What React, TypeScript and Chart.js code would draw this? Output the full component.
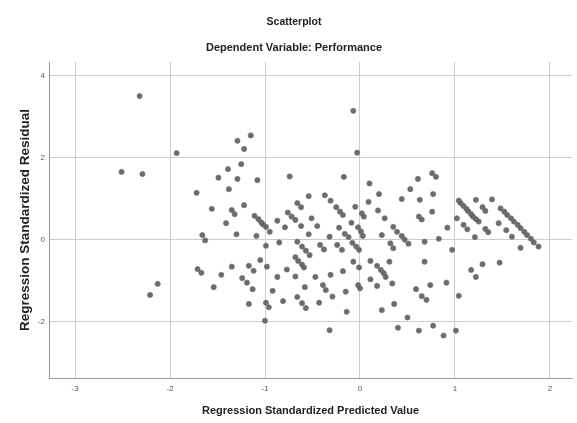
import React, { useEffect, useRef } from 'react';
import { Chart, registerables } from 'chart.js';

Chart.register(...registerables);

const chartTitle = 'Scatterplot';
const chartSubtitle = 'Dependent Variable: Performance';
const xAxisTitle = 'Regression Standardized Predicted Value';
const yAxisTitle = 'Regression Standardized Residual';

const xTickValues = [-3, -2, -1, 0, 1, 2];
const yTickValues = [-2, 0, 2, 4];

// Regression standardized predicted values (x) of each case
const predictedValues = [
  -2.51, -2.32, -2.29, -1.93, -2.21, -2.13, -1.72, -1.71, -1.67, -1.66,
  -1.63, -1.56, -1.54, -1.46, -1.41, -1.38, -1.39, -1.49, -1.35, -1.32,
  -1.35, -1.30, -1.29, -1.22, -1.15, -1.25, -1.29, -1.22, -1.08, -1.24,
  -1.19, -1.13, -1.17, -1.12, -1.17, -1.11, -1.07, -1.04, -1.02, -0.99,
  -0.95, -1.09, -1.05, -0.99, -0.98, -1.00, -0.99, -0.96, -0.92, -0.87,
  -0.85, -0.87, -0.81, -0.79, -0.77, -0.74, -0.76, -0.72, -0.68, -0.66,
  -0.62, -0.62, -0.66, -0.61, -0.57, -0.53, -0.68, -0.65, -0.61, -0.59,
  -0.68, -0.66, -0.61, -0.57, -0.58, -0.54, -0.51, -0.54, -0.45, -0.47,
  -0.43, -0.42, -0.38, -0.37, -0.31, -0.25, -0.21, -0.18, -0.32, -0.31,
  -0.39, -0.36, -0.29, -0.32, -0.22, -0.24, -0.19, -0.18, -0.17, -0.16,
  -0.12, -0.09, -0.15, -0.14, -0.05, -0.07, -0.03, -0.08, -0.04, -0.01,
  -0.02, 0.01, 0.03, 0.02, 0.04, -0.07, -0.01, -0.02, 0.00, 0.10,
  0.20, 0.09, 0.19, 0.26, 0.23, 0.35, 0.39, 0.44, 0.47, 0.51,
  0.32, 0.35, 0.11, 0.31, 0.18, 0.22, 0.25, 0.27, 0.11, 0.18,
  0.34, 0.23, 0.36, 0.50, 0.40, 0.44, 0.53, 0.61, 0.76, 0.80,
  0.63, 0.77, 0.62, 0.65, 0.76, 0.68, 0.83, 0.92, 0.97, 0.68,
  0.59, 0.65, 0.70, 0.74, 0.62, 0.77, 0.88, 1.01, 0.91, 1.04,
  1.04, 1.06, 1.09, 1.12, 1.14, 1.17, 1.19, 1.22, 1.25, 1.02,
  1.09, 1.13, 1.21, 1.22, 1.29, 1.32, 1.32, 1.35, 1.39, 1.48,
  1.52, 1.55, 1.59, 1.62, 1.66, 1.69, 1.73, 1.76, 1.80, 1.83,
  1.88, 1.46, 1.54, 1.60, 1.69, 1.47, 1.29, 1.17, 1.22,
];

// Regression standardized residuals (y) of each case
const residualValues = [
  1.66, 3.51, 1.61, 2.12, -1.34, -1.07, 1.15, -0.71, -0.80, 0.12,
  -0.01, 0.76, -1.15, -0.85, 0.41, 1.24, 1.73, 1.52, 0.73, 0.63,
  -0.65, 0.14, 2.42, 2.22, 2.55, 1.85, 1.49, 0.85, 1.46, -0.93,
  -1.04, -1.20, -0.63, -0.75, -1.56, 0.59, 0.51, 0.43, 0.38, 0.32,
  0.20, 0.10, -0.49, -0.14, -0.65, -1.97, -1.53, -1.64, -1.24, 0.47,
  -0.06, -0.90, -1.49, 0.31, -0.72, 1.55, 0.67, 0.57, 0.49, 0.90,
  0.80, 0.34, -0.04, -0.16, -0.26, -0.37, -0.42, -0.51, -0.60, -0.67,
  -0.89, -1.39, -1.54, -1.66, -1.15, 1.07, 0.53, 0.14, 0.34, -0.90,
  -1.53, -0.12, -0.23, 1.09, 0.96, 0.80, 0.69, 0.61, 0.08, -0.85,
  -1.10, -1.22, -1.38, -2.20, 0.30, -0.12, -0.24, -0.76, 1.54, 0.15,
  0.07, 0.42, -1.26, -1.75, 0.81, 3.15, 2.13, -0.07, -0.16, -0.24,
  0.31, 0.21, 0.10, 0.65, 0.57, -0.53, -0.67, -1.10, -1.18, 1.38,
  1.12, 0.93, 0.72, 0.53, 0.12, 0.32, 0.20, 0.10, 0.01, -0.09,
  -0.08, -0.20, -0.51, -0.53, -0.63, -0.73, -0.81, -0.90, -0.96, -1.12,
  -1.06, -1.71, -1.56, -1.89, -2.14, 1.00, 1.24, 1.49, 1.63, 1.54,
  0.98, 1.12, 0.57, 0.50, 0.69, -0.04, 0.03, 0.30, -0.24, -0.53,
  -1.20, -1.37, -1.46, -1.10, -2.21, -2.09, -2.33, -2.21, -1.04, -1.36,
  0.96, 0.90, 0.83, 0.76, 0.70, 0.63, 0.57, 0.51, 0.45, 0.53,
  0.37, 0.26, 0.07, 0.98, 0.80, 0.71, 0.27, 0.19, 0.99, 0.77,
  0.69, 0.61, 0.53, 0.45, 0.37, 0.29, 0.20, 0.12, 0.03, -0.06,
  -0.16, 0.41, 0.24, 0.08, -0.19, -0.55, -0.59, -0.73, -0.90,
];

const FONT = '"Liberation Sans", Arial, sans-serif';

export default function App() {
  const canvasRef = useRef<HTMLCanvasElement | null>(null);

  useEffect(() => {
    const canvas = canvasRef.current;
    if (!canvas) return;
    const points = predictedValues.map((x, i) => ({ x, y: residualValues[i] }));
    const chart = new Chart(canvas, {
      type: 'scatter',
      data: {
        datasets: [
          {
            data: points,
            pointRadius: 2.6,
            pointHoverRadius: 2.6,
            backgroundColor: 'rgba(92,92,92,0.9)',
            borderColor: 'rgba(115,115,115,0.7)',
            borderWidth: 1,
          },
        ],
      },
      options: {
        responsive: false,
        animation: false,
        devicePixelRatio: 1,
        layout: { padding: { left: 16, right: 5, top: 0, bottom: 0 } },
        plugins: {
          legend: { display: false },
          tooltip: { enabled: false },
          title: {
            display: true,
            text: chartTitle,
            color: '#222',
            font: { family: FONT, size: 10.5, weight: 'bold' },
            padding: { top: 15.7, bottom: 0 },
          },
          subtitle: {
            display: true,
            text: chartSubtitle,
            color: '#222',
            font: { family: FONT, size: 11, weight: 'bold' },
            padding: { top: 13.1, bottom: 7.4 },
          },
        },
        scales: {
          x: {
            type: 'linear',
            min: -3.274,
            max: 2.232,
            afterBuildTicks: (axis: any) => {
              axis.ticks = xTickValues.map((v) => ({ value: v }));
            },
            afterFit: (scale: any) => {
              scale.height = 45;
            },
            grid: { color: '#cccccc', lineWidth: 1, drawTicks: false },
            border: { display: true, color: '#999999', width: 1 },
            ticks: {
              padding: 6,
              color: '#555',
              font: { family: FONT, size: 8 },
            },
            title: {
              display: true,
              text: xAxisTitle,
              color: '#222',
              font: { family: FONT, size: 11, weight: 'bold' },
              padding: { top: 0, bottom: 5.4 },
            },
          },
          y: {
            type: 'linear',
            min: -3.366,
            max: 4.341,
            afterBuildTicks: (axis: any) => {
              axis.ticks = yTickValues.map((v) => ({ value: v }));
            },
            afterFit: (scale: any) => {
              scale.width = 33;
            },
            grid: { color: '#cccccc', lineWidth: 1, drawTicks: false },
            border: { display: true, color: '#999999', width: 1 },
            ticks: {
              padding: 4,
              color: '#555',
              font: { family: FONT, size: 8 },
            },
            title: {
              display: true,
              text: yAxisTitle,
              color: '#222',
              font: { family: FONT, size: 13.5, weight: 'bold' },
              padding: { top: 1, bottom: 0 },
            },
          },
        },
      },
    });
    return () => chart.destroy();
  }, []);

  return (
    <div style={{ position: 'fixed', left: 0, top: 0, width: 577, height: 423, background: '#fff' }}>
      <canvas ref={canvasRef} width={577} height={423} style={{ display: 'block' }} />
    </div>
  );
}
